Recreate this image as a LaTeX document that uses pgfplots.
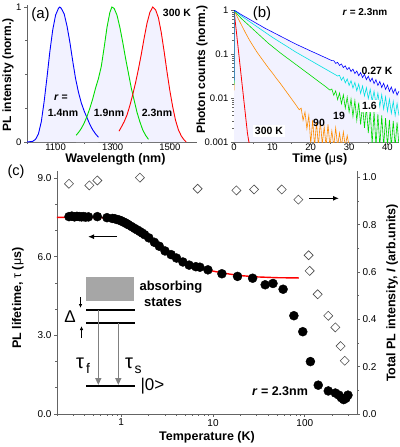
\documentclass[border=0pt]{standalone}
\usepackage{fontspec}
\setmainfont{Liberation Sans}
\usepackage{pgfplots}
\pgfplotsset{compat=1.18}
\usepackage{pgfplotstable}
\usetikzlibrary{arrows.meta}

\definecolor{lav}{RGB}{242,242,255}
\definecolor{cblue}{RGB}{0,0,255}
\definecolor{cgreen}{RGB}{0,220,0}
\definecolor{cred}{RGB}{255,0,0}
\definecolor{ccyan}{RGB}{0,225,225}
\definecolor{corange}{RGB}{255,140,0}
\definecolor{axgray}{RGB}{100,100,100}

% (a) PL spectra
\pgfplotstableread{
nm I
1000 0
1020 0.005
1030 0.02
1040 0.06
1050 0.15
1060 0.30
1070 0.48
1080 0.67
1090 0.83
1100 0.94
1110 0.99
1115 1.0
1120 0.99
1130 0.95
1140 0.86
1150 0.74
1160 0.60
1170 0.47
1180 0.37
1190 0.29
1200 0.23
1210 0.18
1220 0.13
1230 0.09
1240 0.06
1250 0.035
}\specA
\pgfplotstableread{
nm I
1172 0.05
1180 0.07
1190 0.10
1200 0.14
1210 0.19
1220 0.25
1230 0.32
1240 0.40
1250 0.47
1260 0.56
1270 0.70
1280 0.85
1290 0.96
1297 1.0
1305 0.99
1315 0.94
1325 0.85
1335 0.74
1345 0.62
1355 0.51
1365 0.40
1375 0.31
1385 0.22
1395 0.15
1405 0.09
1415 0.05
1425 0.02
}\specB
\pgfplotstableread{
nm I
1322 0.08
1330 0.11
1340 0.15
1350 0.20
1360 0.27
1370 0.35
1380 0.44
1390 0.54
1400 0.65
1410 0.77
1420 0.88
1430 0.96
1440 1.0
1450 0.98
1460 0.92
1470 0.81
1480 0.67
1490 0.52
1500 0.38
1510 0.26
1520 0.16
1530 0.09
1540 0.045
1550 0.015
1557 0.0
}\specC

% (b) decays
\pgfplotstableread{
t c
0 0.025
0 1
1 0.881
2 0.776
3 0.692
4 0.617
5 0.550
6 0.490
7 0.437
8 0.389
9 0.351
10 0.316
12 0.257
14 0.209
16 0.170
18 0.141
20 0.117
22 0.0977
24 0.0813
25.5 0.0708
26.0 0.0706
26.5 0.0612
27.0 0.0647
27.5 0.0550
28.0 0.0594
28.5 0.0492
29.0 0.0538
29.5 0.0442
30.0 0.0494
30.5 0.0400
31.0 0.0453
31.5 0.0359
32.0 0.0411
32.5 0.0321
33.0 0.0377
33.5 0.0292
34.0 0.0346
34.5 0.0261
35.0 0.0313
35.5 0.0237
36.0 0.0284
36.5 0.0212
37.0 0.0261
37.5 0.0193
38.0 0.0237
38.5 0.0173
39.0 0.0217
39.5 0.0157
40.0 0.0197
40.5 0.0142
41.0 0.0178
41.5 0.0129
42.0 0.0162
42.5 0.0117
43.0 0.0143
}\decA
\pgfplotstableread{
t c
0 0.022
0 1
1 0.851
2 0.724
3 0.631
4 0.550
5 0.479
6 0.417
7 0.363
8 0.316
9 0.275
10 0.240
12 0.186
14 0.145
16 0.112
18 0.0891
20 0.0708
22 0.0562
24 0.0447
26 0.0355
27 0.0316
27.5 0.0327
28.0 0.0254
28.5 0.0299
29.0 0.0221
29.5 0.0272
30.0 0.0193
30.5 0.0248
31.0 0.0168
31.5 0.0226
32.0 0.0146
32.5 0.0207
33.0 0.0127
33.5 0.0188
34.0 0.0111
34.5 0.0172
35.0 0.0097
35.5 0.0157
36.0 0.0084
36.5 0.0143
37.0 0.0073
37.5 0.0130
38.0 0.0064
38.5 0.0119
39.0 0.0056
39.5 0.0106
40.0 0.0050
40.5 0.0094
41.0 0.0045
41.5 0.0084
42.0 0.0040
42.5 0.0075
43.0 0.0040
}\decB
\pgfplotstableread{
t c
0 0.02
0 1
1 0.776
2 0.631
3 0.525
4 0.437
5 0.363
6 0.302
7 0.251
8 0.209
9 0.174
10 0.148
12 0.107
14 0.0794
16 0.0589
18 0.0437
20 0.0324
22 0.0240
24 0.0178
25 0.0151
25.5 0.0160
26.0 0.0115
26.5 0.0145
27.0 0.0092
27.5 0.0130
28.0 0.0074
28.5 0.0118
29.0 0.0059
29.5 0.0105
30.0 0.0048
30.5 0.0095
31.0 0.0038
31.5 0.0087
32.0 0.0031
32.5 0.0078
33.0 0.0025
33.5 0.0070
34.0 0.0021
34.5 0.0062
35.0 0.0016
35.5 0.0055
36.0 0.0009
36.5 0.0049
37.0 0.0008
37.5 0.0043
38.0 0.0008
38.5 0.0040
39.0 0.0008
39.5 0.0035
40.0 0.0008
40.5 0.0032
41.0 0.0008
41.5 0.0030
42.0 0.0008
42.5 0.0028
43.0 0.0008
}\decC
\pgfplotstableread{
t c
0 0.015
0 1
1 0.661
2 0.447
3 0.302
4 0.209
5 0.151
6 0.110
7 0.0832
8 0.0631
9 0.0479
10 0.0372
11 0.0282
12 0.0219
13 0.0166
14 0.0126
15 0.00955
16 0.00724
17 0.0054
17.5 0.0059
18.0 0.0031
18.5 0.0048
19.0 0.0020
19.5 0.0040
20.0 0.0009
20.5 0.0032
21.0 0.0008
21.5 0.0028
22.0 0.0008
22.5 0.0030
23.0 0.0009
23.5 0.0022
24.0 0.0008
24.5 0.0025
25.0 0.0008
25.5 0.0018
26.0 0.0008
26.5 0.0021
27.0 0.0008
27.5 0.0016
28.0 0.0008
28.5 0.0017
29.0 0.0008
29.5 0.0014
30.0 0.0008
}\decD
\pgfplotstableread{
t c
0 1
1 0.16
2 0.025
3 0.0040
3.5 0.0016
3.8 0.0011
4.0 0.0009
}\decE

% (c) lifetime, fit, integrated intensity
\pgfplotstableread{
T tau
0.27 7.53
0.29 7.55
0.31 7.52
0.33 7.54
0.35 7.53
0.37 7.52
0.39 7.53
0.41 7.51
0.44 7.52
0.55 7.53
0.70 7.49
0.80 7.46
0.85 7.45
0.90 7.42
0.95 7.40
1.00 7.37
1.05 7.33
1.10 7.30
1.15 7.26
1.20 7.22
1.30 7.15
1.40 7.08
1.50 7.02
1.60 6.96
1.70 6.90
1.80 6.84
2.00 6.72
2.30 6.55
2.60 6.40
3.00 6.22
3.50 6.08
4.00 5.95
4.70 5.80
5.50 5.68
6.50 5.62
7.20 5.60
8.80 5.50
12.5 5.35
18.5 5.25
27 5.18
37 4.93
45 4.98
58 4.76
76 3.75
95 3.14
115 2.0
140 1.1
180 0.88
215 0.80
235 0.72
250 0.62
265 0.55
280 0.60
295 0.72
}\life
\pgfplotstableread{
T tau
0.2 7.50
0.4 7.50
0.6 7.49
0.8 7.46
1.0 7.40
1.2 7.30
1.5 7.10
2.0 6.78
2.5 6.50
3.0 6.28
4.0 5.98
5.0 5.80
6.0 5.68
7.0 5.60
8.0 5.53
10 5.45
15 5.34
20 5.28
30 5.23
50 5.20
86 5.19
}\fit
\pgfplotstableread{
T I
0.27 0.973
0.45 0.966
0.55 0.987
1.6 0.999
6.8 0.952
18 0.945
28 0.949
56 0.949
85 0.906
110 0.671
113 0.605
138 0.506
180 0.415
215 0.366
245 0.287
272 0.225
}\intens

\pgfplotsset{
  panel/.style={
    scale only axis,
    axis x line*=bottom, axis y line*=left,
    axis line style={axgray, line width=0.8pt},
    tick style={axgray, line width=0.7pt},
    tick align=outside,
    major tick length=3pt, minor tick length=1.8pt,
    ticklabel style={font=\fontsize{9.5}{10}\selectfont},
    xticklabel shift=-4.5pt, yticklabel shift=-1pt,
    /pgf/number format/assume math mode=true,
    /pgf/number format/1000 sep={},
    label style={font=\bfseries\fontsize{12}{14}\selectfont},
  },
}

\begin{document}
\begin{tikzpicture}

% ---------- (a) ----------
\begin{axis}[panel, at={(27pt,-142pt)}, anchor=south west,
  width=170pt, height=137pt,
  xmin=1000, xmax=1595, ymin=0, ymax=1.015,
  xtick={1100,1300,1500}, minor xtick={1000,1200,1400},
  ytick={0,1}, minor ytick={0.25,0.5,0.75},
  xlabel={Wavelength (nm)}, ylabel={PL intensity (norm.)},
  xlabel style={at={(axis description cs:0.52,-0.125)}, anchor=center,
    font=\bfseries\fontsize{12.5}{14}\selectfont},
  ylabel style={at={(axis description cs:-0.112,0.49)}, anchor=center, rotate=0},
]
  \addplot[fill=lav, draw=none] table {\specA} \closedcycle;
  \addplot[fill=lav, draw=none] table {\specB} \closedcycle;
  \addplot[fill=lav, draw=none] table {\specC} \closedcycle;
  \addplot[cblue, line width=0.9pt] table {\specA};
  \addplot[cgreen, line width=0.9pt] table {\specB};
  \addplot[cred, line width=0.9pt] table {\specC};
\end{axis}

% ---------- (b) ----------
\begin{axis}[panel, at={(234pt,-142pt)}, anchor=south west,
  width=165pt, height=132pt,
  xmin=0, xmax=43, ymode=log, ymin=0.001, ymax=1,
  xtick={0,10,20,30,40}, minor x tick num=1,
  ytick={0.001,0.01,0.1,1}, yticklabels={0.001,0.01,0.1,1},
  xlabel={Time ({\mdseries μ}s)}, ylabel={Photon counts (norm.)},
  xlabel style={at={(axis description cs:0.52,-0.13)}, anchor=center,
    font=\bfseries\fontsize{12.5}{14}\selectfont},
  ylabel style={at={(axis description cs:-0.194,0.55)}, anchor=center},
]
  \addplot[fill=lav, draw=none] coordinates {
    (0,0.001) (0,1) (1,0.881) (2,0.776) (3,0.692) (4,0.617) (5,0.550)
    (6,0.490) (7,0.437) (8,0.389) (9,0.351) (10,0.316) (12,0.257)
    (14,0.209) (16,0.170) (18,0.141) (20,0.117) (22,0.0977) (24,0.0813)
    (26,0.0680) (30,0.0460) (35,0.0280) (40,0.0170) (43,0.0128) (43,0.001)};
  \addplot[cred, line width=0.8pt] table {\decE};
  \addplot[corange, line width=0.6pt] table {\decD};
  \addplot[cgreen, line width=0.6pt] table {\decC};
  \addplot[ccyan, line width=0.6pt] table {\decB};
  \addplot[cblue, line width=0.6pt] table {\decA};
\end{axis}

% ---------- (c) ----------
\begin{axis}[panel, at={(57pt,-414pt)}, anchor=south west,
  width=300pt, height=243pt,
  xmode=log, xmin=0.2, xmax=370, ymin=0, ymax=9.27,
  xtick={1,10,100}, xticklabels={1,10,100},
  minor xtick={0.2,0.3,0.4,0.5,0.6,0.7,0.8,0.9,2,3,4,5,6,7,8,9,20,30,40,50,60,70,80,90,200,300},
  ytick={0,3,6,9}, minor y tick num=2,
  yticklabel style={/pgf/number format/.cd, fixed, fixed zerofill, precision=1},
  ticklabel style={font=\fontsize{10}{11}\selectfont},
  xticklabel shift=-1.5pt,
  xlabel={Temperature (K)}, ylabel={PL lifetime, {\mdseries τ} ({\mdseries μ}s)},
  xlabel style={at={(axis description cs:0.5,-0.095)}, anchor=center,
    font=\bfseries\fontsize{12.5}{14}\selectfont},
  ylabel style={at={(axis description cs:-0.13,0.477)}, anchor=center,
    font=\bfseries\fontsize{12.5}{14}\selectfont},
]
  \addplot[only marks, mark=*, mark size=4.5pt, black] table {\life};
  \addplot[cred, line width=1.4pt] table {\fit};
\end{axis}
\begin{axis}[panel, at={(57pt,-414pt)}, anchor=south west,
  width=300pt, height=243pt,
  axis x line=none, axis y line*=right,
  xmode=log, xmin=0.2, xmax=370, ymin=0, ymax=1.027,
  ytick={0,0.2,0.4,0.6,0.8,1.0}, minor y tick num=1,
  yticklabel style={/pgf/number format/.cd, fixed, fixed zerofill, precision=1},
  ticklabel style={font=\fontsize{10}{11}\selectfont},
  ylabel={Total PL intensity, \textit{I} (arb.units)},
  ylabel style={at={(axis description cs:1.117,0.498)}, anchor=center, rotate=0,
    font=\bfseries\fontsize{12.5}{14}\selectfont},
]
  \addplot[only marks, mark=square, mark size=3.2pt,
    mark options={rotate=45, draw=black!70, fill=white, line width=0.6pt}] table {\intens};
\end{axis}

% ---------- annotations ----------
\tikzset{bl/.style={font=\bfseries\fontsize{10.5}{12}\selectfont, inner sep=0pt}}
\node[font=\fontsize{15}{16}\selectfont] at (40.5pt,-15pt) {(a)};
\node[bl] at (177pt,-13pt) {300 K};
\node[bl] at (61pt,-98pt) {\textit{r} =};
\node[bl] at (63pt,-113pt) {1.4nm};
\node[bl] at (109pt,-113pt) {1.9nm};
\node[bl] at (157pt,-113pt) {2.3nm};

\node[font=\fontsize{15}{16}\selectfont] at (262pt,-13.5pt) {(b)};
\node[bl, font=\bfseries\fontsize{10}{12}\selectfont] at (365pt,-12.5pt) {\textit{r} = 2.3nm};
\node[bl] at (377pt,-71pt) {0.27 K};
\node[bl, fill=white, inner sep=2.5pt] at (369.5pt,-106pt) {1.6};
\node[bl] at (339pt,-116pt) {19};
\node[bl] at (319pt,-122.5pt) {90};
\node[bl, fill=white, inner sep=2pt] at (269pt,-131pt) {300 K};

\node[font=\fontsize{14.5}{16}\selectfont] at (16pt,-172pt) {(c)};
\draw[-{Latex[length=6pt,width=5pt]}, line width=1.2pt] (117pt,-236.7pt) -- (88pt,-236.7pt);
\draw[-{Latex[length=6pt,width=5pt]}, line width=1.2pt] (309pt,-198.3pt) -- (339pt,-198.3pt);
\node[font=\bfseries\fontsize{12.5}{15}\selectfont] at (280pt,-391pt) {\textit{r} = 2.3nm};

% energy level scheme
\fill[gray!70] (86pt,-277pt) rectangle (134pt,-301pt);
\node[font=\bfseries\fontsize{13}{15}\selectfont, anchor=west] at (136pt,-287pt) {absorbing};
\node[font=\bfseries\fontsize{13}{15}\selectfont] at (163pt,-302pt) {states};
\draw[line width=1.3pt] (86pt,-310pt) -- (135pt,-310pt);
\draw[line width=1.3pt] (86pt,-323pt) -- (135pt,-323pt);
\draw[line width=1.3pt] (86pt,-386pt) -- (135pt,-386pt);
\draw[gray, line width=1.4pt, -{Triangle[length=7pt,width=6pt]}] (98.3pt,-310pt) -- (98.3pt,-385pt);
\draw[gray, line width=1.4pt, -{Triangle[length=7pt,width=6pt]}] (118.3pt,-323pt) -- (118.3pt,-385pt);
\draw[line width=0.9pt, -{Latex[length=4pt,width=3.5pt]}] (80.5pt,-297pt) -- (80.5pt,-308pt);
\draw[line width=0.9pt, -{Latex[length=4pt,width=3.5pt]}] (81.5pt,-338pt) -- (81.5pt,-326pt);
\node[font=\fontsize{17}{18}\selectfont] at (70pt,-317pt) {Δ};
\node[font=\fontsize{20}{20}\selectfont, anchor=base] at (80pt,-368pt) {τ};
\node[font=\fontsize{14}{14}\selectfont, anchor=base] at (88pt,-373pt) {f};
\node[font=\fontsize{20}{20}\selectfont, anchor=base] at (129pt,-368pt) {τ};
\node[font=\fontsize{14}{14}\selectfont, anchor=base] at (138pt,-373pt) {s};
\node[font=\fontsize{17}{18}\selectfont, anchor=west] at (137pt,-386pt) {|0>};

\pgfresetboundingbox
\path[use as bounding box] (0pt,0pt) rectangle (399pt,-447pt);
\end{tikzpicture}
\end{document}
